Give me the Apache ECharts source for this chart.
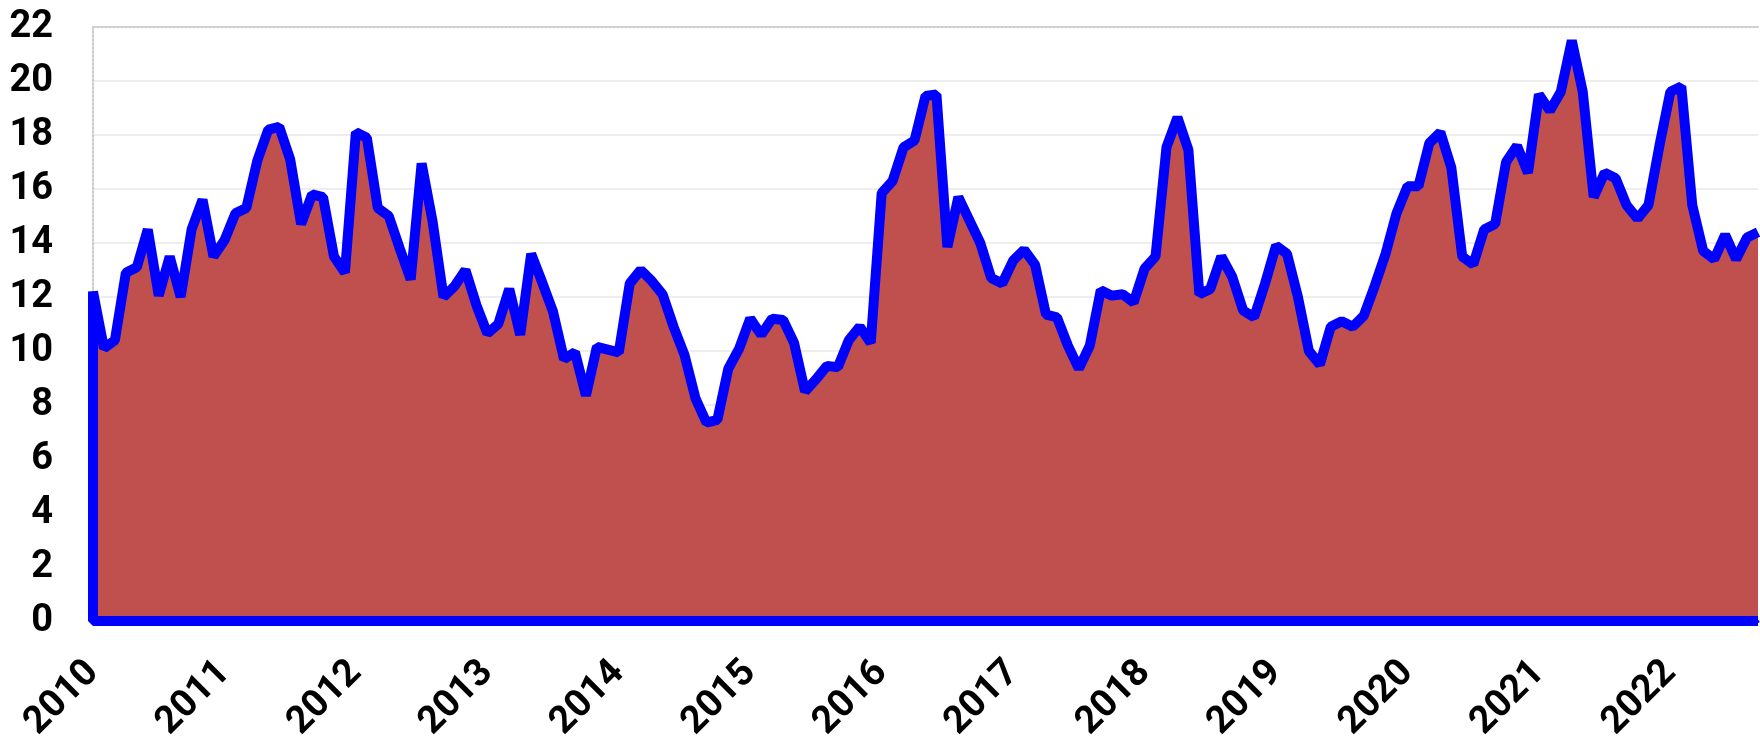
<!DOCTYPE html>
<html>
<head>
<meta charset="utf-8">
<script src="https://cdn.jsdelivr.net/npm/echarts@6/dist/echarts.min.js"></script>
<style>
  html, body { margin: 0; padding: 0; background: #fff; }
  #chart { width: 1760px; height: 738px; }
</style>
</head>
<body>
<div id="chart"></div>
<script>
// monthly values, Jan 2010 .. Sep 2022
const values = [
  12.2, 10.1, 10.4, 12.9, 13.1, 14.5, 12.05, 13.5, 12.0, 14.5,
  15.6, 13.5, 14.1, 15.1, 15.3, 17.05, 18.2, 18.3, 17.1, 14.7,
  15.8, 15.7, 13.5, 12.9, 18.1, 17.9, 15.3, 15.0, 13.8, 12.65,
  16.95, 14.8, 12.0, 12.4, 13.0, 11.7, 10.65, 11.0, 12.3, 10.6,
  13.6, 12.55, 11.45, 9.7, 9.95, 8.35, 10.15, 10.05, 9.95, 12.5,
  13.0, 12.6, 12.1, 10.9, 9.85, 8.25, 7.35, 7.45, 9.35, 10.1,
  11.2, 10.6, 11.2, 11.15, 10.3, 8.5, 8.95, 9.45, 9.4, 10.4,
  10.9, 10.3, 15.85, 16.3, 17.55, 17.8, 19.45, 19.5, 13.85, 15.7,
  14.85, 14.0, 12.7, 12.5, 13.35, 13.75, 13.2, 11.35, 11.25, 10.2,
  9.35, 10.2, 12.25, 12.05, 12.1, 11.8, 13.05, 13.5, 17.55, 18.65,
  17.45, 12.1, 12.3, 13.5, 12.75, 11.5, 11.25, 12.5, 13.9, 13.6,
  12.0, 10.0, 9.5, 10.9, 11.1, 10.9, 11.3, 12.4, 13.6, 15.1,
  16.1, 16.1, 17.7, 18.1, 16.8, 13.5, 13.2, 14.5, 14.7, 17.0,
  17.6, 16.6, 19.5, 18.9, 19.6, 21.5, 19.6, 15.7, 16.6, 16.4,
  15.4, 14.9, 15.4, 17.6, 19.6, 19.8, 15.4, 13.7, 13.4, 14.3,
  13.4, 14.2, 14.4
]
const yearLabels = ['2010', '2011', '2012', '2013', '2014', '2015', '2016',
  '2017', '2018', '2019', '2020', '2021', '2022']
const yTicks = [0, 22, 2] // min, max, step

// outline: bottom edge, left edge, then the monthly line
const last = values.length - 1
const points = [[last, 0], [0, 0]].concat(values.map((v, i) => [i, v]))

const chart = echarts.init(document.getElementById('chart'))
const labelFont = {
  fontFamily: 'Roboto',
  fontWeight: 'bold',
  fontSize: 38,
  color: '#000'
}

chart.setOption({
  animation: false,
  grid: { left: 93, right: 2, top: 27, bottom: 117, containLabel: false, outerBoundsMode: 'none' },
  xAxis: [
    {
      type: 'value',
      min: 0,
      max: last,
      interval: 12,
      axisLine: { show: true, lineStyle: { color: '#0000ff', width: 3 } },
      axisTick: { show: false },
      splitLine: { show: false },
      axisLabel: {
        ...labelFont,
        rotate: 45,
        margin: 46,
        showMaxLabel: false,
        formatter: v => yearLabels[v / 12] || ''
      }
    },
    {
      type: 'value',
      position: 'top',
      min: 0,
      max: last,
      axisLine: { show: true, lineStyle: { color: '#cccccc', width: 2, type: 'dotted' } },
      axisTick: { show: false },
      axisLabel: { show: false },
      splitLine: { show: false }
    }
  ],
  yAxis: {
    type: 'value',
    min: yTicks[0],
    max: yTicks[1],
    interval: yTicks[2],
    axisLine: { show: true, lineStyle: { color: '#cccccc', width: 2, type: 'dotted' } },
    axisTick: { show: false },
    splitLine: { lineStyle: { color: '#eeeeee', width: 2 } },
    axisLabel: { ...labelFont, margin: 40 }
  },
  series: [{
    type: 'line',
    data: points,
    symbol: 'none',
    lineStyle: { color: '#0000ff', width: 10, join: 'bevel' },
    areaStyle: { color: '#c0504d', opacity: 1 },
    z: 3
  }]
})
</script>
</body>
</html>
